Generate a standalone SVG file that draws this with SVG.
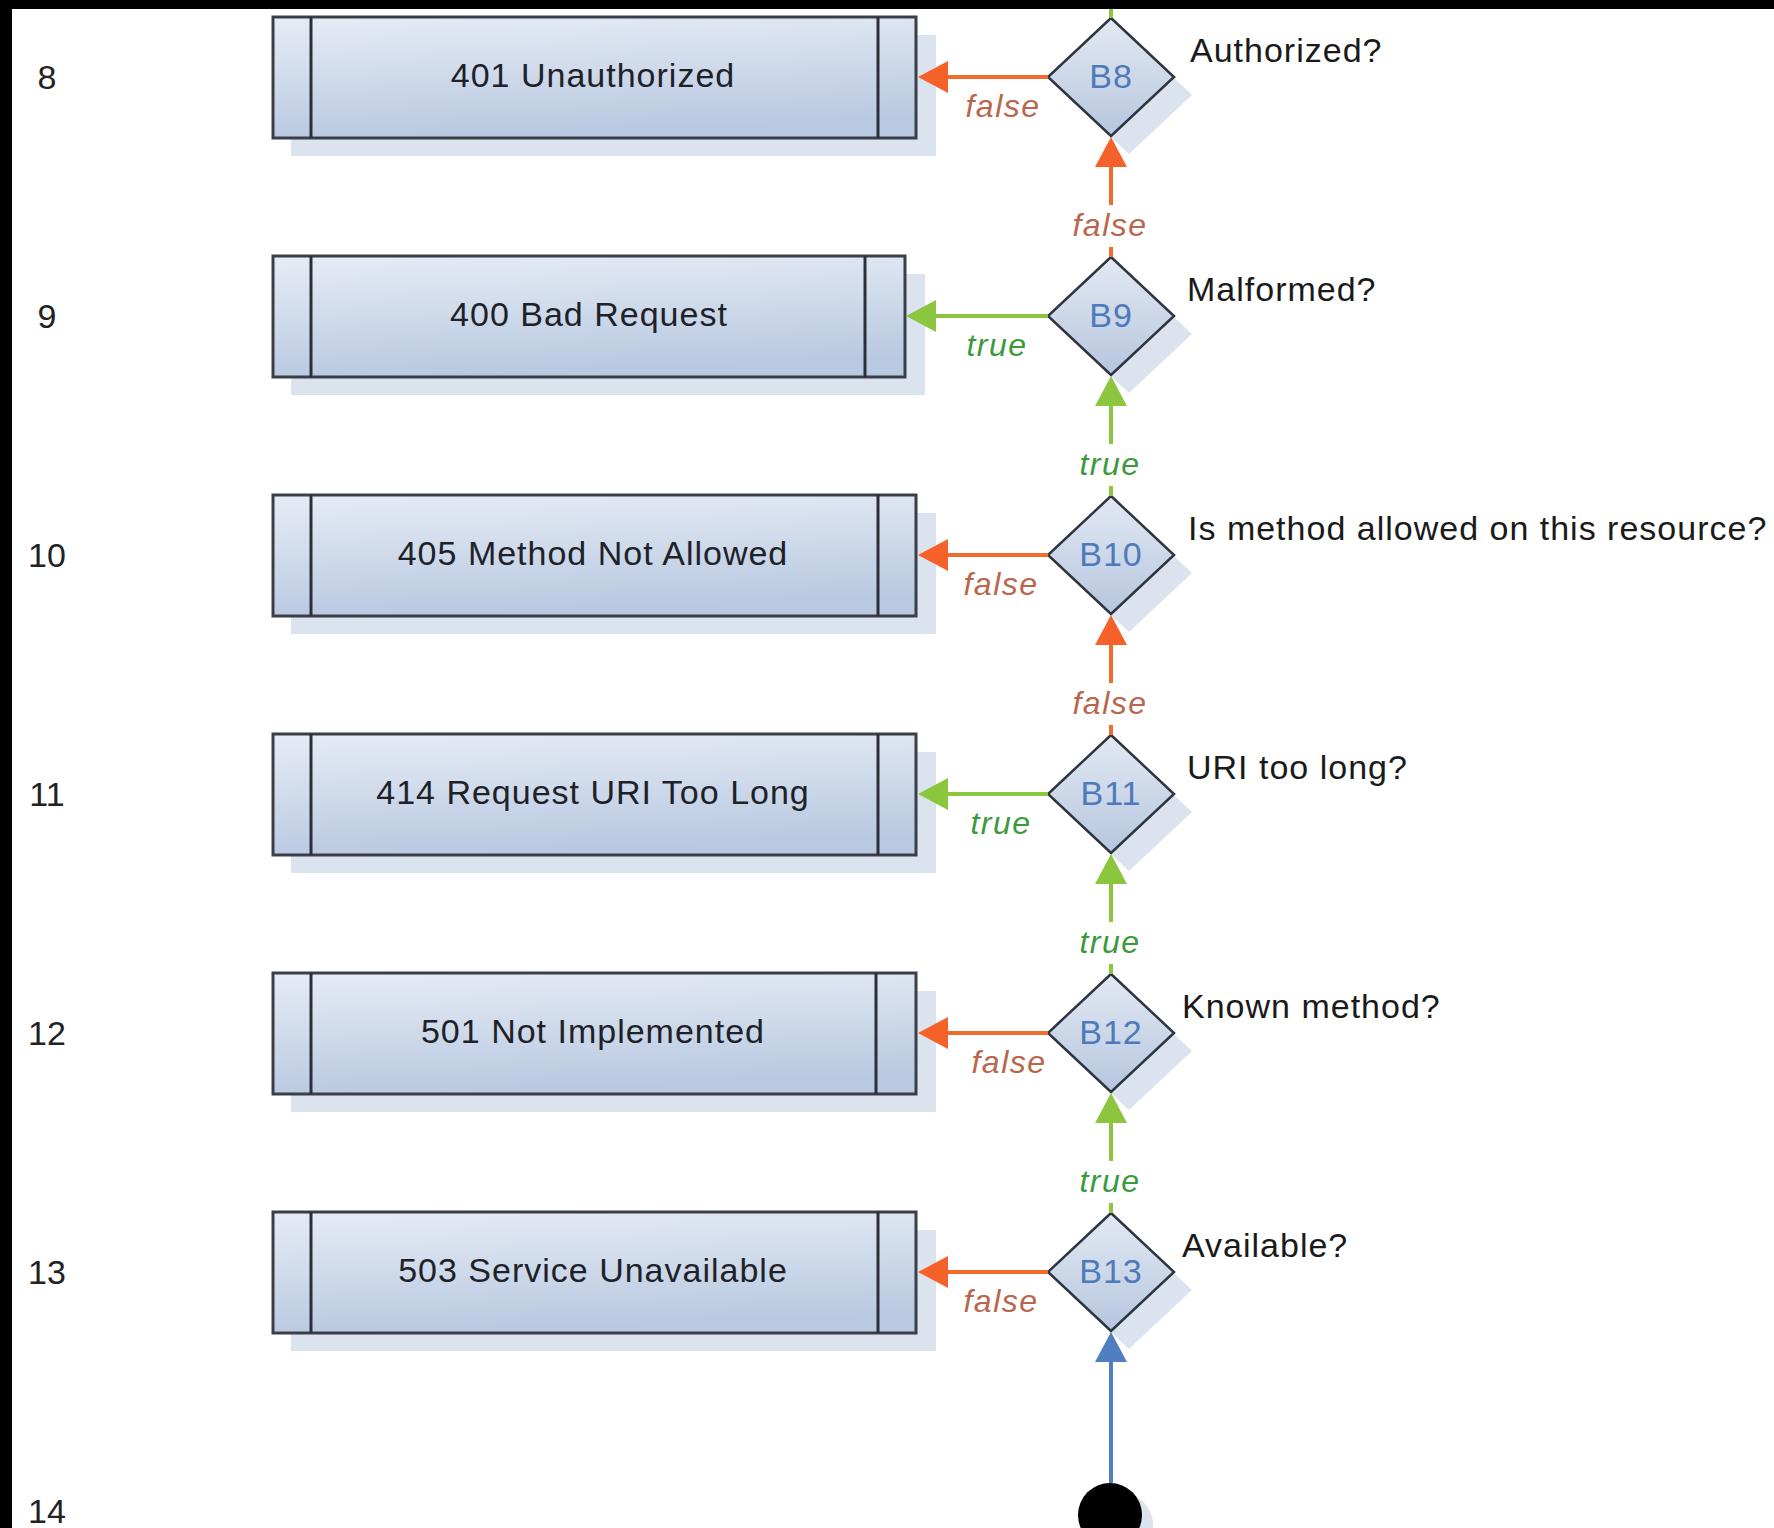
<svg xmlns="http://www.w3.org/2000/svg" width="1774" height="1528" viewBox="0 0 1774 1528">
<defs>
<linearGradient id="boxg" x1="0" y1="0" x2="0.2" y2="1">
<stop offset="0" stop-color="#e6ecf5"/>
<stop offset="1" stop-color="#b9c9e1"/>
</linearGradient>
<linearGradient id="diag" x1="0" y1="0" x2="0" y2="1">
<stop offset="0" stop-color="#e3e9f3"/>
<stop offset="1" stop-color="#b6c6df"/>
</linearGradient>
<marker id="ao" viewBox="0 0 30 32" refX="0" refY="16" markerWidth="30" markerHeight="32" markerUnits="userSpaceOnUse" orient="auto">
<path d="M0,0 L30,16 L0,32 Z" fill="#f4622a"/>
</marker>
<marker id="ag" viewBox="0 0 30 32" refX="0" refY="16" markerWidth="30" markerHeight="32" markerUnits="userSpaceOnUse" orient="auto">
<path d="M0,0 L30,16 L0,32 Z" fill="#8cc63f"/>
</marker>
<marker id="ab" viewBox="0 0 30 32" refX="0" refY="16" markerWidth="30" markerHeight="32" markerUnits="userSpaceOnUse" orient="auto">
<path d="M0,0 L30,16 L0,32 Z" fill="#4f7fc0"/>
</marker>
</defs>
<style>
text{font-family:"Liberation Sans",Arial,sans-serif}
.shadow{fill:#dbe3ef}
.box{fill:url(#boxg);stroke:#3a3f47;stroke-width:3}
.div{stroke:#2a2f38;stroke-width:3}
.bt{font-size:34px;fill:#1e2228;text-anchor:middle;letter-spacing:1px}
.dia{fill:url(#diag);stroke:#2f3540;stroke-width:2.5}
.dt{font-size:34px;fill:#4d7aba;text-anchor:middle;letter-spacing:1px}
.q{font-size:34px;fill:#1a1a1a;letter-spacing:1px}
.row{font-size:34px;fill:#222;text-anchor:middle}
.fo{fill:none;stroke:#f26a2c;stroke-width:4}
.tg{fill:none;stroke:#8cc63f;stroke-width:4}
.bl{fill:none;stroke:#4f7fc0;stroke-width:4}
.lf{font-size:32px;font-style:italic;fill:#b9674c;text-anchor:middle;letter-spacing:1.5px}
.lt{font-size:32px;font-style:italic;fill:#3c9a3c;text-anchor:middle;letter-spacing:1.5px}
</style>
<rect x="0" y="0" width="1774" height="1528" fill="#ffffff"/>

<g id="row-labels">
<text class="row" x="47" y="89">8</text>
<text class="row" x="47" y="328">9</text>
<text class="row" x="47" y="567">10</text>
<text class="row" x="47" y="806">11</text>
<text class="row" x="47" y="1045">12</text>
<text class="row" x="47" y="1284">13</text>
<text class="row" x="47" y="1523">14</text>
</g>

<g id="box-401">
<rect class="shadow" x="291" y="35" width="645" height="121"/>
<rect class="box" x="273" y="17" width="643" height="121"/>
<line class="div" x1="311" y1="17" x2="311" y2="138"/>
<line class="div" x1="878" y1="17" x2="878" y2="138"/>
<text class="bt" x="593" y="87">401 Unauthorized</text>
</g>
<g id="box-400">
<rect class="shadow" x="291" y="274" width="634" height="121"/>
<rect class="box" x="273" y="256" width="632" height="121"/>
<line class="div" x1="311" y1="256" x2="311" y2="377"/>
<line class="div" x1="865" y1="256" x2="865" y2="377"/>
<text class="bt" x="589" y="326">400 Bad Request</text>
</g>
<g id="box-405">
<rect class="shadow" x="291" y="513" width="645" height="121"/>
<rect class="box" x="273" y="495" width="643" height="121"/>
<line class="div" x1="311" y1="495" x2="311" y2="616"/>
<line class="div" x1="878" y1="495" x2="878" y2="616"/>
<text class="bt" x="593" y="565">405 Method Not Allowed</text>
</g>
<g id="box-414">
<rect class="shadow" x="291" y="752" width="645" height="121"/>
<rect class="box" x="273" y="734" width="643" height="121"/>
<line class="div" x1="311" y1="734" x2="311" y2="855"/>
<line class="div" x1="878" y1="734" x2="878" y2="855"/>
<text class="bt" x="593" y="804">414 Request URI Too Long</text>
</g>
<g id="box-501">
<rect class="shadow" x="291" y="991" width="645" height="121"/>
<rect class="box" x="273" y="973" width="643" height="121"/>
<line class="div" x1="311" y1="973" x2="311" y2="1094"/>
<line class="div" x1="876" y1="973" x2="876" y2="1094"/>
<text class="bt" x="593" y="1043">501 Not Implemented</text>
</g>
<g id="box-503">
<rect class="shadow" x="291" y="1230" width="645" height="121"/>
<rect class="box" x="273" y="1212" width="643" height="121"/>
<line class="div" x1="311" y1="1212" x2="311" y2="1333"/>
<line class="div" x1="878" y1="1212" x2="878" y2="1333"/>
<text class="bt" x="593" y="1282">503 Service Unavailable</text>
</g>

<g id="dec-B8">
<polygon class="shadow" points="1129,36 1192,95 1129,154 1066,95"/>
<polygon class="dia" points="1111,18 1174,77 1111,136 1048,77"/>
<text class="dt" x="1111" y="88">B8</text>
<text class="q" x="1190" y="62">Authorized?</text>
</g>
<g id="dec-B9">
<polygon class="shadow" points="1129,275 1192,334 1129,393 1066,334"/>
<polygon class="dia" points="1111,257 1174,316 1111,375 1048,316"/>
<text class="dt" x="1111" y="327">B9</text>
<text class="q" x="1187" y="301">Malformed?</text>
</g>
<g id="dec-B10">
<polygon class="shadow" points="1129,514 1192,573 1129,632 1066,573"/>
<polygon class="dia" points="1111,496 1174,555 1111,614 1048,555"/>
<text class="dt" x="1111" y="566">B10</text>
<text class="q" x="1188" y="540">Is method allowed on this resource?</text>
</g>
<g id="dec-B11">
<polygon class="shadow" points="1129,753 1192,812 1129,871 1066,812"/>
<polygon class="dia" points="1111,735 1174,794 1111,853 1048,794"/>
<text class="dt" x="1111" y="805">B11</text>
<text class="q" x="1187" y="779">URI too long?</text>
</g>
<g id="dec-B12">
<polygon class="shadow" points="1129,992 1192,1051 1129,1110 1066,1051"/>
<polygon class="dia" points="1111,974 1174,1033 1111,1092 1048,1033"/>
<text class="dt" x="1111" y="1044">B12</text>
<text class="q" x="1182" y="1018">Known method?</text>
</g>
<g id="dec-B13">
<polygon class="shadow" points="1129,1231 1192,1290 1129,1349 1066,1290"/>
<polygon class="dia" points="1111,1213 1174,1272 1111,1331 1048,1272"/>
<text class="dt" x="1111" y="1283">B13</text>
<text class="q" x="1182" y="1257">Available?</text>
</g>
<g id="start">
<circle cx="1121" cy="1525" r="32" fill="#dde3ec"/>
<circle cx="1110" cy="1515" r="32" fill="#000000"/>
</g>

<g id="connectors">
<path class="tg" d="M1111,9 L1111,18"/>
<path class="fo" d="M1048,77 L948,77" marker-end="url(#ao)"/>
<path class="tg" d="M1048,316 L936,316" marker-end="url(#ag)"/>
<path class="fo" d="M1048,555 L948,555" marker-end="url(#ao)"/>
<path class="tg" d="M1048,794 L948,794" marker-end="url(#ag)"/>
<path class="fo" d="M1048,1033 L948,1033" marker-end="url(#ao)"/>
<path class="fo" d="M1048,1272 L948,1272" marker-end="url(#ao)"/>
<path class="fo" d="M1111,257 L1111,247 M1111,205 L1111,167" marker-end="url(#ao)"/>
<path class="tg" d="M1111,496 L1111,486 M1111,444 L1111,406" marker-end="url(#ag)"/>
<path class="fo" d="M1111,735 L1111,725 M1111,683 L1111,645" marker-end="url(#ao)"/>
<path class="tg" d="M1111,974 L1111,964 M1111,922 L1111,884" marker-end="url(#ag)"/>
<path class="tg" d="M1111,1213 L1111,1203 M1111,1161 L1111,1123" marker-end="url(#ag)"/>
<path class="bl" d="M1111,1483 L1111,1362" marker-end="url(#ab)"/>
<text class="lf" x="1003" y="117">false</text>
<text class="lt" x="997" y="356">true</text>
<text class="lf" x="1001" y="595">false</text>
<text class="lt" x="1001" y="834">true</text>
<text class="lf" x="1009" y="1073">false</text>
<text class="lf" x="1001" y="1312">false</text>
<text class="lf" x="1110" y="236">false</text>
<text class="lt" x="1110" y="475">true</text>
<text class="lf" x="1110" y="714">false</text>
<text class="lt" x="1110" y="953">true</text>
<text class="lt" x="1110" y="1192">true</text>
</g>

<g id="frame">
<rect x="0" y="0" width="1774" height="9" fill="#000000"/>
<rect x="0" y="0" width="12" height="1528" fill="#000000"/>
</g>
</svg>
